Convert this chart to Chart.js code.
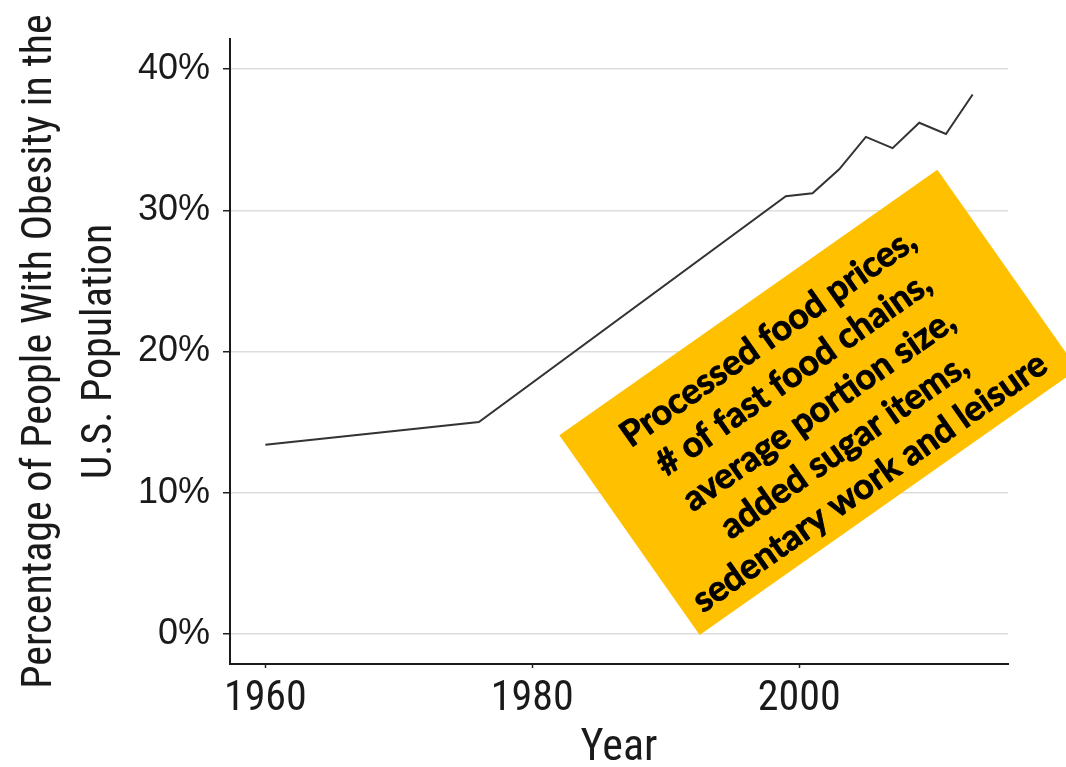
<!DOCTYPE html>
<html>
<head>
<meta charset="utf-8">
<script src="https://cdn.jsdelivr.net/npm/chart.js@4"></script>
<style>
  html, body { margin: 0; padding: 0; background: #fff; }
  canvas { display: block; }
</style>
</head>
<body>
<canvas id="myChart" width="1066" height="767"></canvas>
<script>
// data
const years = [1960, 1976, 1999, 2001, 2003, 2005, 2007, 2009, 2011, 2013];
const obesity = [13.4, 15.0, 31.0, 31.2, 32.9, 35.2, 34.4, 36.2, 35.4, 38.2];
const xTicks = [1960, 1980, 2000];
const yTicks = [0, 10, 20, 30, 40];
const noteLines = ['Processed food prices,', '# of fast food chains,', 'average portion size,', 'added sugar items,', 'sedentary work and leisure'];

const narrow = "'Liberation Sans Narrow', 'Arial Narrow', 'Roboto Condensed', sans-serif";

// orange box drawn over the plot, anchored on data coords
const notePlugin = {
  id: 'note',
  afterDraw(chart) {
    const ctx = chart.ctx;
    const cx = chart.scales.x.getPixelForValue(2001.45);
    const cy = chart.scales.y.getPixelForValue(16.4);
    const w = 462, h = 244;
    ctx.save();
    ctx.translate(cx, cy);
    ctx.rotate(-35.1 * Math.PI / 180);
    ctx.fillStyle = '#FFC000';
    ctx.fillRect(-w / 2, -h / 2, w, h);
    // fit font so the longest line is ~424px
    let size = 37;
    ctx.font = 'bold ' + size + 'px Lato, "Open Sans", sans-serif';
    const widest = Math.max(...noteLines.map(l => ctx.measureText(l).width));
    size = size * 424 / widest;
    ctx.font = 'bold ' + size + 'px Lato, "Open Sans", sans-serif';
    ctx.fillStyle = '#000';
    ctx.strokeStyle = '#000';
    ctx.lineWidth = 0.9;
    ctx.lineJoin = 'round';
    ctx.textAlign = 'center';
    ctx.textBaseline = 'middle';
    const lh = 44.2;
    for (let i = 0; i < noteLines.length; i++) {
      const ty = 6.5 + (i - 2) * lh;
      ctx.fillText(noteLines[i], -4, ty);
      ctx.strokeText(noteLines[i], -4, ty);
    }
    ctx.restore();
  }
};

const ctx = document.getElementById('myChart');
const myChart = new Chart(ctx, {
  type: 'line',
  data: {
    datasets: [{
      label: 'Obesity',
      data: years.map((y, i) => ({x: y, y: obesity[i]})),
      borderColor: '#333333',
      borderWidth: 2,
      pointRadius: 0,
      fill: false,
      tension: 0
    }]
  },
  options: {
    responsive: false,
    animation: false,
    devicePixelRatio: 1,
    layout: { padding: { top: 39, right: 58, left: 0, bottom: 0 } },
    plugins: { legend: { display: false }, tooltip: { enabled: false } },
    scales: {
      x: {
        type: 'linear',
        min: 1957.35,
        max: 2015.65,
        afterBuildTicks: s => { s.ticks = xTicks.map(v => ({value: v})); },
        afterFit: s => { s.height = 103; },
        grid: { drawOnChartArea: false, drawTicks: true, tickLength: 4, tickColor: '#222', tickWidth: 1.5 },
        border: { color: '#1a1a1a', width: 2 },
        ticks: {
          padding: 6,
          color: '#1a1a1a',
          font: { family: narrow, size: 42 },
          callback: v => String(v)
        },
        title: {
          display: true,
          text: 'Year',
          color: '#1a1a1a',
          font: { family: narrow, size: 44, lineHeight: 0.8 },
          padding: { top: 0, bottom: 0 }
        }
      },
      y: {
        min: -2.13,
        max: 42.13,
        afterBuildTicks: s => { s.ticks = yTicks.map(v => ({value: v})); },
        afterFit: s => { s.width = 230; },
        grid: { color: '#dddddd', lineWidth: 1.5, tickLength: 7, tickColor: '#222', tickWidth: 1.5 },
        border: { color: '#1a1a1a', width: 2 },
        ticks: {
          padding: 13,
          color: '#1a1a1a',
          font: { family: "'Liberation Sans', Arial, sans-serif", size: 36 },
          callback: v => v + '%'
        },
        title: {
          display: true,
          text: ['Percentage of People With Obesity in the', 'U.S. Population'],
          color: '#1a1a1a',
          font: { family: narrow, size: 42, lineHeight: 60 / 42 },
          padding: { top: 10, bottom: 0 }
        }
      }
    }
  },
  plugins: [notePlugin]
});
</script>
</body>
</html>
